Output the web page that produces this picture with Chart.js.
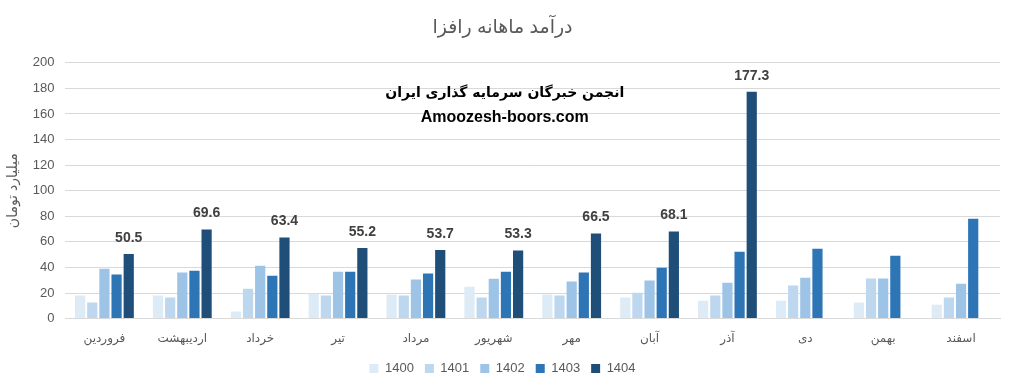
<!doctype html>
<html lang="fa">
  <head>
    <meta charset="UTF-8" />
    <title>درآمد ماهانه رافزا</title>
    <script src="https://cdn.jsdelivr.net/npm/chart.js"></script>
    <style>
      body { margin: 0; background: #fff; }
    </style>
  </head>
  <body>
    <canvas id="revenueChart" width="1012" height="392"></canvas>

    <script>
      // months (left to right as in the picture)
      const months = ["فروردین", "اردیبهشت", "خرداد", "تیر", "مرداد", "شهریور", "مهر", "آبان", "آذر", "دی", "بهمن", "اسفند"];
      const years = ["1400", "1401", "1402", "1403", "1404"];

      // monthly revenue, billion toman
      const y1400 = [18, 18, 5.5, 19.5, 18.8, 25, 18.8, 16.4, 14, 14, 12.5, 10.9];
      const y1401 = [12.5, 16.4, 23.4, 18, 18, 16.4, 18, 20.3, 18, 25.8, 31.3, 16.4];
      const y1402 = [39, 36, 41.4, 36.7, 30.5, 31.2, 29, 29.7, 28.1, 32, 31.3, 27.3];
      const y1403 = [34.4, 37.5, 33.6, 36.7, 35.2, 36.7, 36, 39.8, 52.3, 54.7, 49.2, 78.1];
      const y1404 = [50.5, 69.6, 63.4, 55.2, 53.7, 53.3, 66.5, 68.1, 177.3, null, null, null];

      const colors = ["#DDEBF7", "#BDD7EE", "#9DC3E6", "#2E75B6", "#1F4E79"];
      const series = [y1400, y1401, y1402, y1403, y1404];

      const faFont = "'Liberation Sans', 'DejaVu Sans', sans-serif";

      // value labels over the 1404 bars
      const lastLabels = {
        id: "lastLabels",
        afterDatasetsDraw(chart) {
          const ctx = chart.ctx;
          const meta = chart.getDatasetMeta(4);
          ctx.save();
          ctx.font = "bold 14px 'Liberation Sans', sans-serif";
          ctx.fillStyle = "#404040";
          ctx.textAlign = "center";
          ctx.textBaseline = "bottom";
          meta.data.forEach((bar, i) => {
            const v = y1404[i];
            if (v == null) return;
            ctx.fillText(v.toFixed(1), bar.x, bar.y - 9);
          });
          ctx.restore();
        },
      };

      // watermark text in the plot area
      const watermark = {
        id: "watermark",
        afterDraw(chart) {
          const ctx = chart.ctx;
          const a = chart.chartArea;
          const cx = a.left + (a.right - a.left) * 0.47;
          const yScale = chart.scales.y;
          ctx.save();
          ctx.fillStyle = "#000";
          ctx.textAlign = "center";
          ctx.textBaseline = "middle";
          ctx.font = "bold 14px 'DejaVu Sans', sans-serif";
          ctx.fillText("انجمن خبرگان سرمایه گذاری ایران", cx, yScale.getPixelForValue(176));
          ctx.font = "bold 16px 'Liberation Sans', sans-serif";
          ctx.fillText("Amoozesh-boors.com", cx, yScale.getPixelForValue(157));
          ctx.restore();
        },
      };

      new Chart(document.getElementById("revenueChart").getContext("2d"), {
        type: "bar",
        data: {
          labels: months,
          datasets: years.map((yr, i) => ({
            label: yr,
            data: series[i],
            backgroundColor: colors[i],
            borderWidth: 0,
            categoryPercentage: 0.78,
            barPercentage: 0.84,
          })),
        },
        options: {
          responsive: false,
          animation: false,
          layout: { padding: { left: 5, right: 12, top: 4, bottom: 7 } },
          scales: {
            x: {
              grid: { display: false },
              border: { color: "#d9d9d9" },
              ticks: { color: "#595959", padding: 5, font: { size: 12, family: faFont } },
            },
            y: {
              min: 0,
              max: 200,
              ticks: { stepSize: 20, color: "#595959", padding: 11, font: { size: 13, family: "'Liberation Sans', sans-serif" } },
              grid: { color: "#d9d9d9", drawTicks: false },
              border: { display: false },
              title: {
                display: true,
                text: "میلیارد تومان",
                color: "#595959",
                font: { size: 14, family: faFont },
                padding: 0,
              },
            },
          },
          plugins: {
            title: {
              display: true,
              text: "درآمد ماهانه رافزا",
              color: "#595959",
              font: { size: 19, weight: "normal", family: faFont },
              padding: { top: 12, bottom: 24 },
            },
            legend: {
              position: "bottom",
              labels: {
                boxWidth: 9,
                boxHeight: 9,
                color: "#595959",
                font: { size: 13, family: "'Liberation Sans', sans-serif" },
                padding: 11,
              },
            },
            tooltip: { enabled: false },
          },
        },
        plugins: [lastLabels, watermark],
      });
    </script>
  </body>
</html>
